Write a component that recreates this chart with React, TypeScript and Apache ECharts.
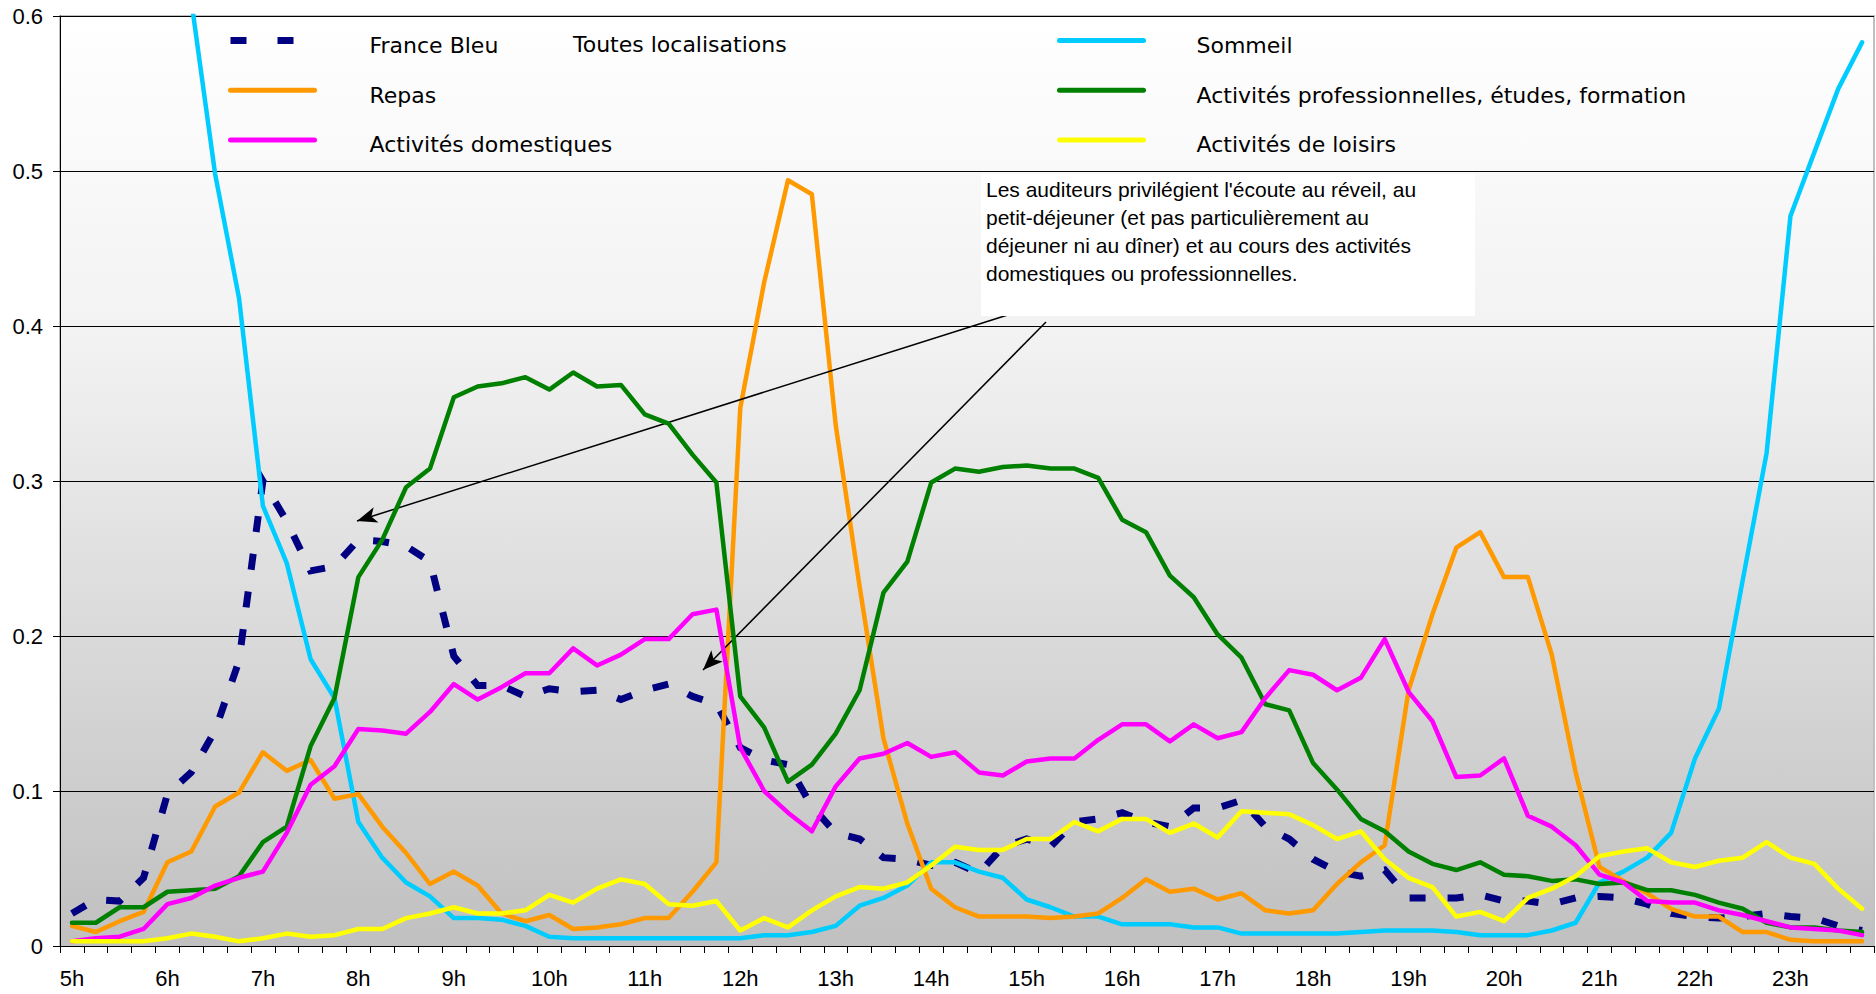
import React, { useEffect, useRef } from "react";
import * as echarts from "echarts";

const categories = [
  "5h", "5h15", "5h30", "5h45", "6h", "6h15", "6h30", "6h45",
  "7h", "7h15", "7h30", "7h45", "8h", "8h15", "8h30", "8h45",
  "9h", "9h15", "9h30", "9h45", "10h", "10h15", "10h30", "10h45",
  "11h", "11h15", "11h30", "11h45", "12h", "12h15", "12h30", "12h45",
  "13h", "13h15", "13h30", "13h45", "14h", "14h15", "14h30", "14h45",
  "15h", "15h15", "15h30", "15h45", "16h", "16h15", "16h30", "16h45",
  "17h", "17h15", "17h30", "17h45", "18h", "18h15", "18h30", "18h45",
  "19h", "19h15", "19h30", "19h45", "20h", "20h15", "20h30", "20h45",
  "21h", "21h15", "21h30", "21h45", "22h", "22h15", "22h30", "22h45",
  "23h", "23h15", "23h30", "23h45",
];

const franceBleu = [
  0.021, 0.030, 0.029, 0.044, 0.098, 0.112, 0.139, 0.184,
  0.300, 0.274, 0.242, 0.245, 0.262, 0.261, 0.258, 0.248,
  0.187, 0.168, 0.168, 0.161, 0.166, 0.164, 0.165, 0.159,
  0.165, 0.169, 0.161, 0.156, 0.128, 0.120, 0.117, 0.090,
  0.073, 0.069, 0.057, 0.056, 0.052, 0.054, 0.047, 0.064,
  0.069, 0.064, 0.080, 0.082, 0.086, 0.080, 0.077, 0.089,
  0.089, 0.094, 0.077, 0.069, 0.056, 0.048, 0.045, 0.049,
  0.031, 0.031, 0.031, 0.033, 0.029, 0.029, 0.027, 0.031,
  0.032, 0.031, 0.027, 0.021, 0.019, 0.018, 0.019, 0.021,
  0.019, 0.018, 0.013, 0.010,
];

const sommeil = [
  0.78, 0.77, 0.75, 0.72, 0.67, 0.61, 0.498, 0.418,
  0.284, 0.247, 0.185, 0.160, 0.080, 0.057, 0.041, 0.032,
  0.018, 0.018, 0.017, 0.013, 0.006, 0.005, 0.005, 0.005,
  0.005, 0.005, 0.005, 0.005, 0.005, 0.007, 0.007, 0.009,
  0.013, 0.026, 0.031, 0.039, 0.054, 0.054, 0.048, 0.044,
  0.030, 0.025, 0.019, 0.019, 0.014, 0.014, 0.014, 0.012,
  0.012, 0.008, 0.008, 0.008, 0.008, 0.008, 0.009, 0.010,
  0.010, 0.010, 0.009, 0.007, 0.007, 0.007, 0.010, 0.015,
  0.041, 0.048, 0.057, 0.073, 0.121, 0.153, 0.236, 0.318,
  0.471, 0.512, 0.553, 0.583,
];

const repas = [
  0.013, 0.009, 0.016, 0.022, 0.054, 0.061, 0.090, 0.099,
  0.125, 0.113, 0.120, 0.095, 0.098, 0.077, 0.060, 0.040,
  0.048, 0.039, 0.021, 0.016, 0.020, 0.011, 0.012, 0.014,
  0.018, 0.018, 0.035, 0.054, 0.347, 0.428, 0.494, 0.485,
  0.336, 0.232, 0.134, 0.079, 0.037, 0.025, 0.019, 0.019,
  0.019, 0.018, 0.019, 0.021, 0.031, 0.043, 0.035, 0.037,
  0.030, 0.034, 0.023, 0.021, 0.023, 0.040, 0.054, 0.065,
  0.165, 0.214, 0.257, 0.267, 0.238, 0.238, 0.188, 0.112,
  0.051, 0.042, 0.034, 0.024, 0.019, 0.019, 0.009, 0.009,
  0.004, 0.003, 0.003, 0.003,
];

const activitesPro = [
  0.015, 0.015, 0.025, 0.025, 0.035, 0.036, 0.037, 0.045,
  0.067, 0.077, 0.129, 0.160, 0.238, 0.262, 0.296, 0.308,
  0.354, 0.361, 0.363, 0.367, 0.359, 0.370, 0.361, 0.362,
  0.343, 0.337, 0.317, 0.299, 0.161, 0.141, 0.106, 0.117,
  0.137, 0.165, 0.228, 0.248, 0.299, 0.308, 0.306, 0.309,
  0.310, 0.308, 0.308, 0.302, 0.275, 0.267, 0.239, 0.225,
  0.201, 0.186, 0.156, 0.152, 0.118, 0.101, 0.082, 0.074,
  0.061, 0.053, 0.049, 0.054, 0.046, 0.045, 0.042, 0.043,
  0.040, 0.041, 0.036, 0.036, 0.033, 0.028, 0.024, 0.015,
  0.012, 0.012, 0.010, 0.009,
];

const activitesDomestiques = [
  0.003, 0.005, 0.006, 0.011, 0.027, 0.031, 0.039, 0.044,
  0.048, 0.073, 0.104, 0.116, 0.140, 0.139, 0.137, 0.151,
  0.169, 0.159, 0.167, 0.176, 0.176, 0.192, 0.181, 0.188,
  0.198, 0.198, 0.214, 0.217, 0.128, 0.100, 0.086, 0.074,
  0.103, 0.121, 0.124, 0.131, 0.122, 0.125, 0.112, 0.110,
  0.119, 0.121, 0.121, 0.133, 0.143, 0.143, 0.132, 0.143,
  0.134, 0.138, 0.160, 0.178, 0.175, 0.165, 0.173, 0.198,
  0.164, 0.145, 0.109, 0.110, 0.121, 0.084, 0.077, 0.065,
  0.046, 0.041, 0.029, 0.028, 0.028, 0.023, 0.020, 0.016,
  0.012, 0.011, 0.010, 0.007,
];

const loisirs = [
  0.003, 0.003, 0.003, 0.003, 0.005, 0.008, 0.006, 0.003,
  0.005, 0.008, 0.006, 0.007, 0.011, 0.011, 0.018, 0.021,
  0.025, 0.021, 0.021, 0.023, 0.033, 0.028, 0.037, 0.043,
  0.040, 0.027, 0.026, 0.029, 0.010, 0.018, 0.012, 0.023,
  0.032, 0.038, 0.037, 0.041, 0.052, 0.064, 0.062, 0.062,
  0.069, 0.069, 0.080, 0.074, 0.082, 0.082, 0.073, 0.079,
  0.070, 0.087, 0.086, 0.085, 0.078, 0.069, 0.074, 0.056,
  0.044, 0.038, 0.019, 0.022, 0.016, 0.031, 0.037, 0.045,
  0.058, 0.061, 0.063, 0.054, 0.051, 0.055, 0.057, 0.067,
  0.057, 0.053, 0.037, 0.024,
];

const seriesNames = [
  "France Bleu",
  "Sommeil",
  "Repas",
  "Activités professionnelles, études, formation",
  "Activités domestiques",
  "Activités de loisirs",
];
const seriesColors = ["#000080", "#00CCFF", "#FF9900", "#008000", "#FF00FF", "#FFFF00"];
const seriesValues = [franceBleu, sommeil, repas, activitesPro, activitesDomestiques, loisirs];

const extraLegendText = "Toutes localisations";
const annotationText =
  "Les auditeurs privilégient l'écoute au réveil, au\npetit-déjeuner (et pas particulièrement au\ndéjeuner ni au dîner) et au cours des activités\ndomestiques ou professionnelles.";

const yTicks = { min: 0, max: 0.6, interval: 0.1 };

export default function App() {
  const ref = useRef<HTMLDivElement>(null);

  useEffect(() => {
    if (!ref.current) return;
    const chart = echarts.init(ref.current, undefined, { renderer: "svg" });

    const legendText = (padLeft: number) => ({
      fontFamily: "'DejaVu Sans', Verdana, sans-serif",
      fontSize: 22,
      color: "#000",
      padding: [0, 0, 0, padLeft],
      rich: {
        t: {
          fontFamily: "'DejaVu Sans', Verdana, sans-serif",
          fontSize: 22,
          color: "#000",
          lineHeight: 28,
          padding: [10, 0, 0, 0],
        },
      },
    });

    const series: any[] = seriesNames.map((name, i) => ({
      name,
      type: "line",
      data: seriesValues[i],
      symbol: "none",
      clip: true,
      z: 2 + i,
      lineStyle:
        i === 0
          ? { color: seriesColors[i], width: 7, type: [16, 22], cap: "butt", join: "miter" }
          : { color: seriesColors[i], width: 4.5, cap: "round", join: "round" },
      itemStyle: { color: seriesColors[i] },
      emphasis: { disabled: true },
    }));

    series[series.length - 1].markLine = {
      silent: true,
      symbol: ["none", "arrow"],
      symbolSize: [12, 20],
      label: { show: false },
      lineStyle: { color: "#000", width: 1.5, type: "solid" },
      emphasis: { disabled: true },
      data: [
        [{ x: 1014, y: 313 }, { x: 357, y: 521 }],
        [{ x: 1046, y: 322 }, { x: 703, y: 670 }],
      ],
    };

    const legendCommon = {
      orient: "vertical",
      top: 24.5,
      padding: 0,
      itemWidth: 84,
      itemHeight: 8,
      itemGap: 17.7,
      selectedMode: false,
      formatter: "{t|{name}}",
      itemStyle: { opacity: 0, borderWidth: 0 },
      lineStyle: { width: 5, cap: "round" },
    };

    chart.setOption({
      animation: false,
      grid: {
        left: 60,
        right: 2,
        top: 16,
        bottom: 48,
        show: true,
        borderColor: "#c0c0c0",
        borderWidth: 2,
        backgroundColor: new echarts.graphic.LinearGradient(0, 0, 0, 1, [
          { offset: 0, color: "#ffffff" },
          { offset: 0.35, color: "#f2f2f2" },
          { offset: 1, color: "#c0c0c0" },
        ]),
      },
      legend: [
        {
          ...legendCommon,
          data: [
            { name: seriesNames[0], lineStyle: { width: 7, type: [16, 31], cap: "butt" } },
            seriesNames[2],
            seriesNames[4],
          ],
          left: 227,
          textStyle: legendText(50),
        },
        {
          ...legendCommon,
          data: [seriesNames[1], seriesNames[3], seriesNames[5]],
          left: 1057,
          textStyle: legendText(48),
        },
      ],
      xAxis: {
        type: "category",
        data: categories,
        boundaryGap: true,
        axisLine: { show: true, lineStyle: { color: "#000", width: 1 } },
        axisTick: { show: true, interval: 0, length: 7, lineStyle: { color: "#000" } },
        axisLabel: {
          interval: 3,
          margin: 21,
          color: "#000",
          fontSize: 22,
          fontFamily: "'Liberation Sans', Arial, sans-serif",
        },
        splitLine: { show: false },
      },
      yAxis: {
        type: "value",
        min: yTicks.min,
        max: yTicks.max,
        interval: yTicks.interval,
        axisLine: { show: true, lineStyle: { color: "#000", width: 1 } },
        axisTick: { show: true, length: 7, lineStyle: { color: "#000" } },
        axisLabel: {
          margin: 17,
          color: "#000",
          fontSize: 22,
          fontFamily: "'Liberation Sans', Arial, sans-serif",
        },
        splitLine: { show: true, lineStyle: { color: "#000", width: 1 } },
      },
      graphic: [
        {
          type: "text",
          left: 573,
          top: 30,
          z: 10,
          style: {
            text: extraLegendText,
            font: "22px 'DejaVu Sans', Verdana, sans-serif",
            fill: "#000",
            lineHeight: 28,
          },
        },
        {
          type: "rect",
          shape: { x: 981, y: 174, width: 494, height: 142 },
          z: 10,
          style: { fill: "#ffffff" },
        },
        {
          type: "text",
          x: 986,
          y: 175,
          z: 11,
          style: {
            text: annotationText,
            font: "21px 'Liberation Sans', Arial, sans-serif",
            fill: "#000",
            lineHeight: 28,
          },
        },
      ],
      series,
    });

    return () => chart.dispose();
  }, []);

  return (
    <div
      ref={ref}
      style={{ position: "fixed", left: 0, top: 0, width: 1876, height: 994, background: "#fff" }}
    />
  );
}
